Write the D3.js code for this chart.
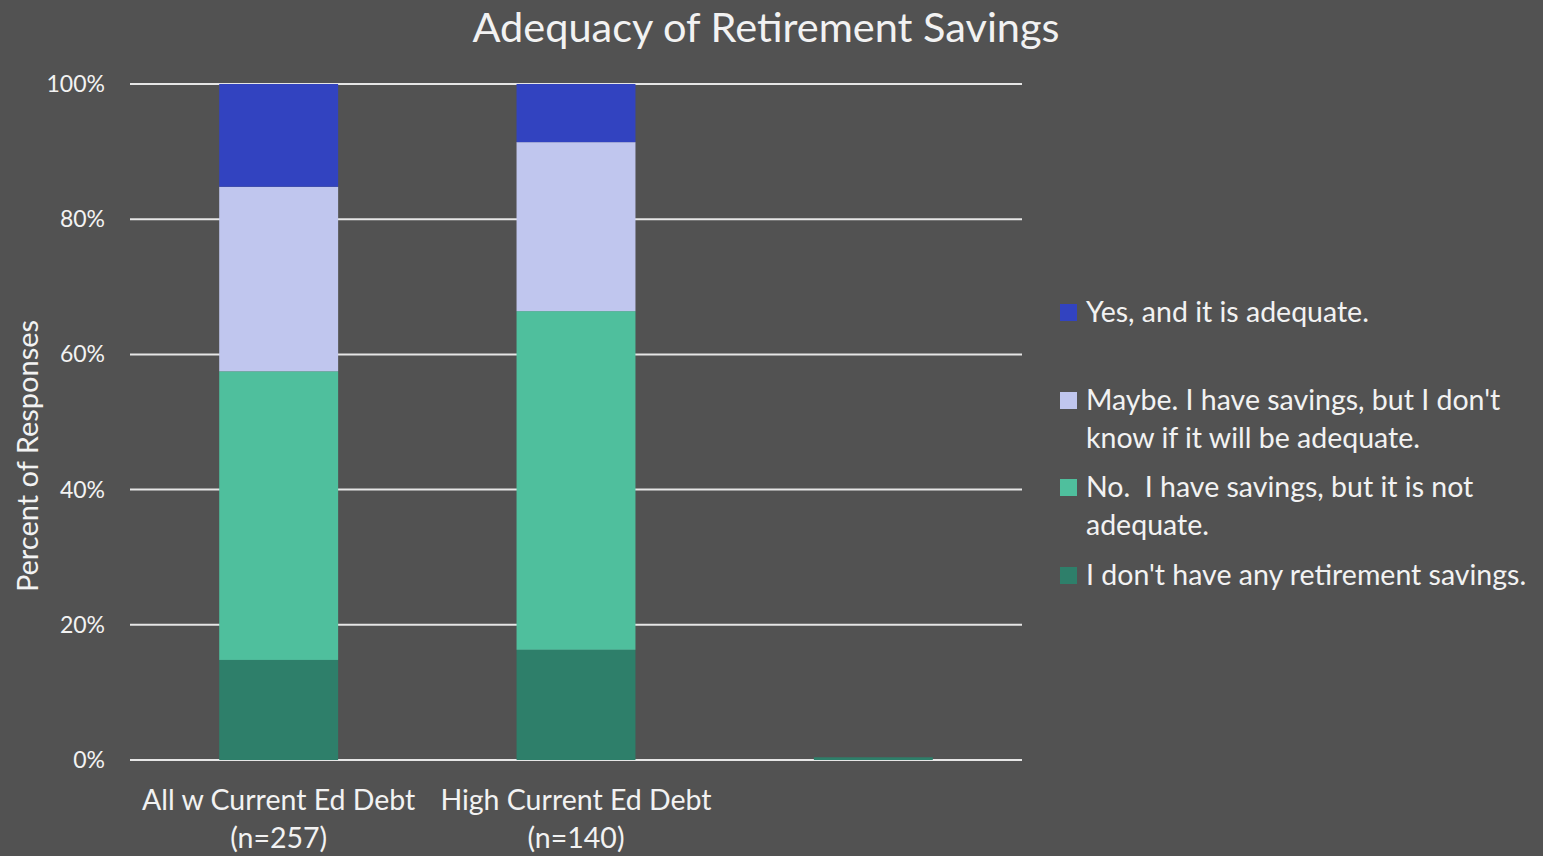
<!DOCTYPE html>
<html>
<head>
<meta charset="utf-8">
<script src="https://cdn.jsdelivr.net/npm/d3@7"></script>
<style>
  html, body { margin: 0; padding: 0; background: #525252; }
  svg { display: block; }
  text { font-family: Lato, "Open Sans", sans-serif; fill: #F2F2F2; white-space: pre; }
</style>
</head>
<body>
<svg id="chart" width="1543" height="856"></svg>
<script>
// Categories (third slot is an empty placeholder column)
const categories = ["All w Current Ed Debt\n(n=257)", "High Current Ed Debt\n(n=140)", ""];

// Series, stacked bottom to top (percent of responses)
const seriesNames = [
  "I don't have any retirement savings.",
  "No.  I have savings, but it is not adequate.",
  "Maybe. I have savings, but I don't know if it will be adequate.",
  "Yes, and it is adequate."
];
const noSavings   = [14.8, 16.3, 0.4];
const notAdequate = [42.7, 50.1, 0];
const maybe       = [27.3, 25.0, 0];
const adequate    = [15.2, 8.6, 0];

const seriesColors = ["#2E7F6A", "#4FBF9D", "#C0C6EE", "#3243C0"];
const yTicks = [0, 20, 40, 60, 80, 100];

// Legend, listed top to bottom with wrapped lines
const legendLines = [
  ["Yes, and it is adequate."],
  ["Maybe. I have savings, but I don't", "know if it will be adequate."],
  ["No.  I have savings, but it is not", "adequate."],
  ["I don't have any retirement savings."]
];
const legendColorIdx = [3, 2, 1, 0];

const svg = d3.select("#chart");
const plot = { left: 130, right: 1022, top: 84, bottom: 760 };

const rows = categories.map((c, i) => ({
  cat: i,
  s0: noSavings[i], s1: notAdequate[i], s2: maybe[i], s3: adequate[i]
}));
const stack = d3.stack().keys(["s0", "s1", "s2", "s3"])(rows);

const x = d3.scaleBand()
  .domain(d3.range(categories.length))
  .range([plot.left, plot.right])
  .paddingInner(0.6)
  .paddingOuter(0.3);

const y = d3.scaleLinear().domain([0, 100]).range([plot.bottom, plot.top]);

// Gridlines
svg.append("g")
  .selectAll("line")
  .data(yTicks)
  .join("line")
  .attr("x1", plot.left).attr("x2", plot.right)
  .attr("y1", d => y(d)).attr("y2", d => y(d))
  .attr("stroke", "#E6E6E6").attr("stroke-width", 2);

// Y tick labels
svg.append("g")
  .selectAll("text")
  .data(yTicks)
  .join("text")
  .attr("x", 105)
  .attr("y", d => y(d))
  .attr("dy", "0.35em")
  .attr("text-anchor", "end")
  .style("font-size", "23px")
  .text(d => d + "%");

// Stacked bars
svg.append("g")
  .selectAll("g")
  .data(stack)
  .join("g")
  .attr("fill", (d, i) => seriesColors[i])
  .selectAll("rect")
  .data(d => d)
  .join("rect")
  .attr("x", d => x(d.data.cat))
  .attr("width", x.bandwidth())
  .attr("y", d => y(d[1]))
  .attr("height", d => Math.max(0, y(d[0]) - y(d[1])));

// Category labels
const catG = svg.append("g");
categories.forEach((c, i) => {
  const t = catG.append("text")
    .attr("x", x(i) + x.bandwidth() / 2)
    .attr("y", 810)
    .attr("text-anchor", "middle")
    .style("font-size", "28.5px");
  c.split("\n").forEach((line, j) => {
    t.append("tspan")
      .attr("x", x(i) + x.bandwidth() / 2)
      .attr("dy", j === 0 ? 0 : 38)
      .text(line);
  });
});

// Axis title
svg.append("text")
  .attr("transform", "translate(28, 456) rotate(-90)")
  .attr("text-anchor", "middle")
  .attr("dy", "0.35em")
  .style("font-size", "29px")
  .text("Percent of Responses");

// Chart title
svg.append("text")
  .attr("x", 766)
  .attr("y", 42)
  .attr("text-anchor", "middle")
  .style("font-size", "41.5px")
  .text("Adequacy of Retirement Savings");

// Legend
const legendTop = [312, 400, 487, 575];
const legend = svg.append("g");
legendLines.forEach((lines, i) => {
  legend.append("rect")
    .attr("x", 1060).attr("y", legendTop[i] - 8)
    .attr("width", 17).attr("height", 17)
    .attr("fill", seriesColors[legendColorIdx[i]]);
  const t = legend.append("text")
    .attr("x", 1086)
    .attr("y", legendTop[i])
    .style("font-size", "28.5px");
  lines.forEach((line, j) => {
    t.append("tspan")
      .attr("x", 1086)
      .attr("dy", j === 0 ? "0.35em" : 38)
      .text(line);
  });
});
</script>
</body>
</html>
